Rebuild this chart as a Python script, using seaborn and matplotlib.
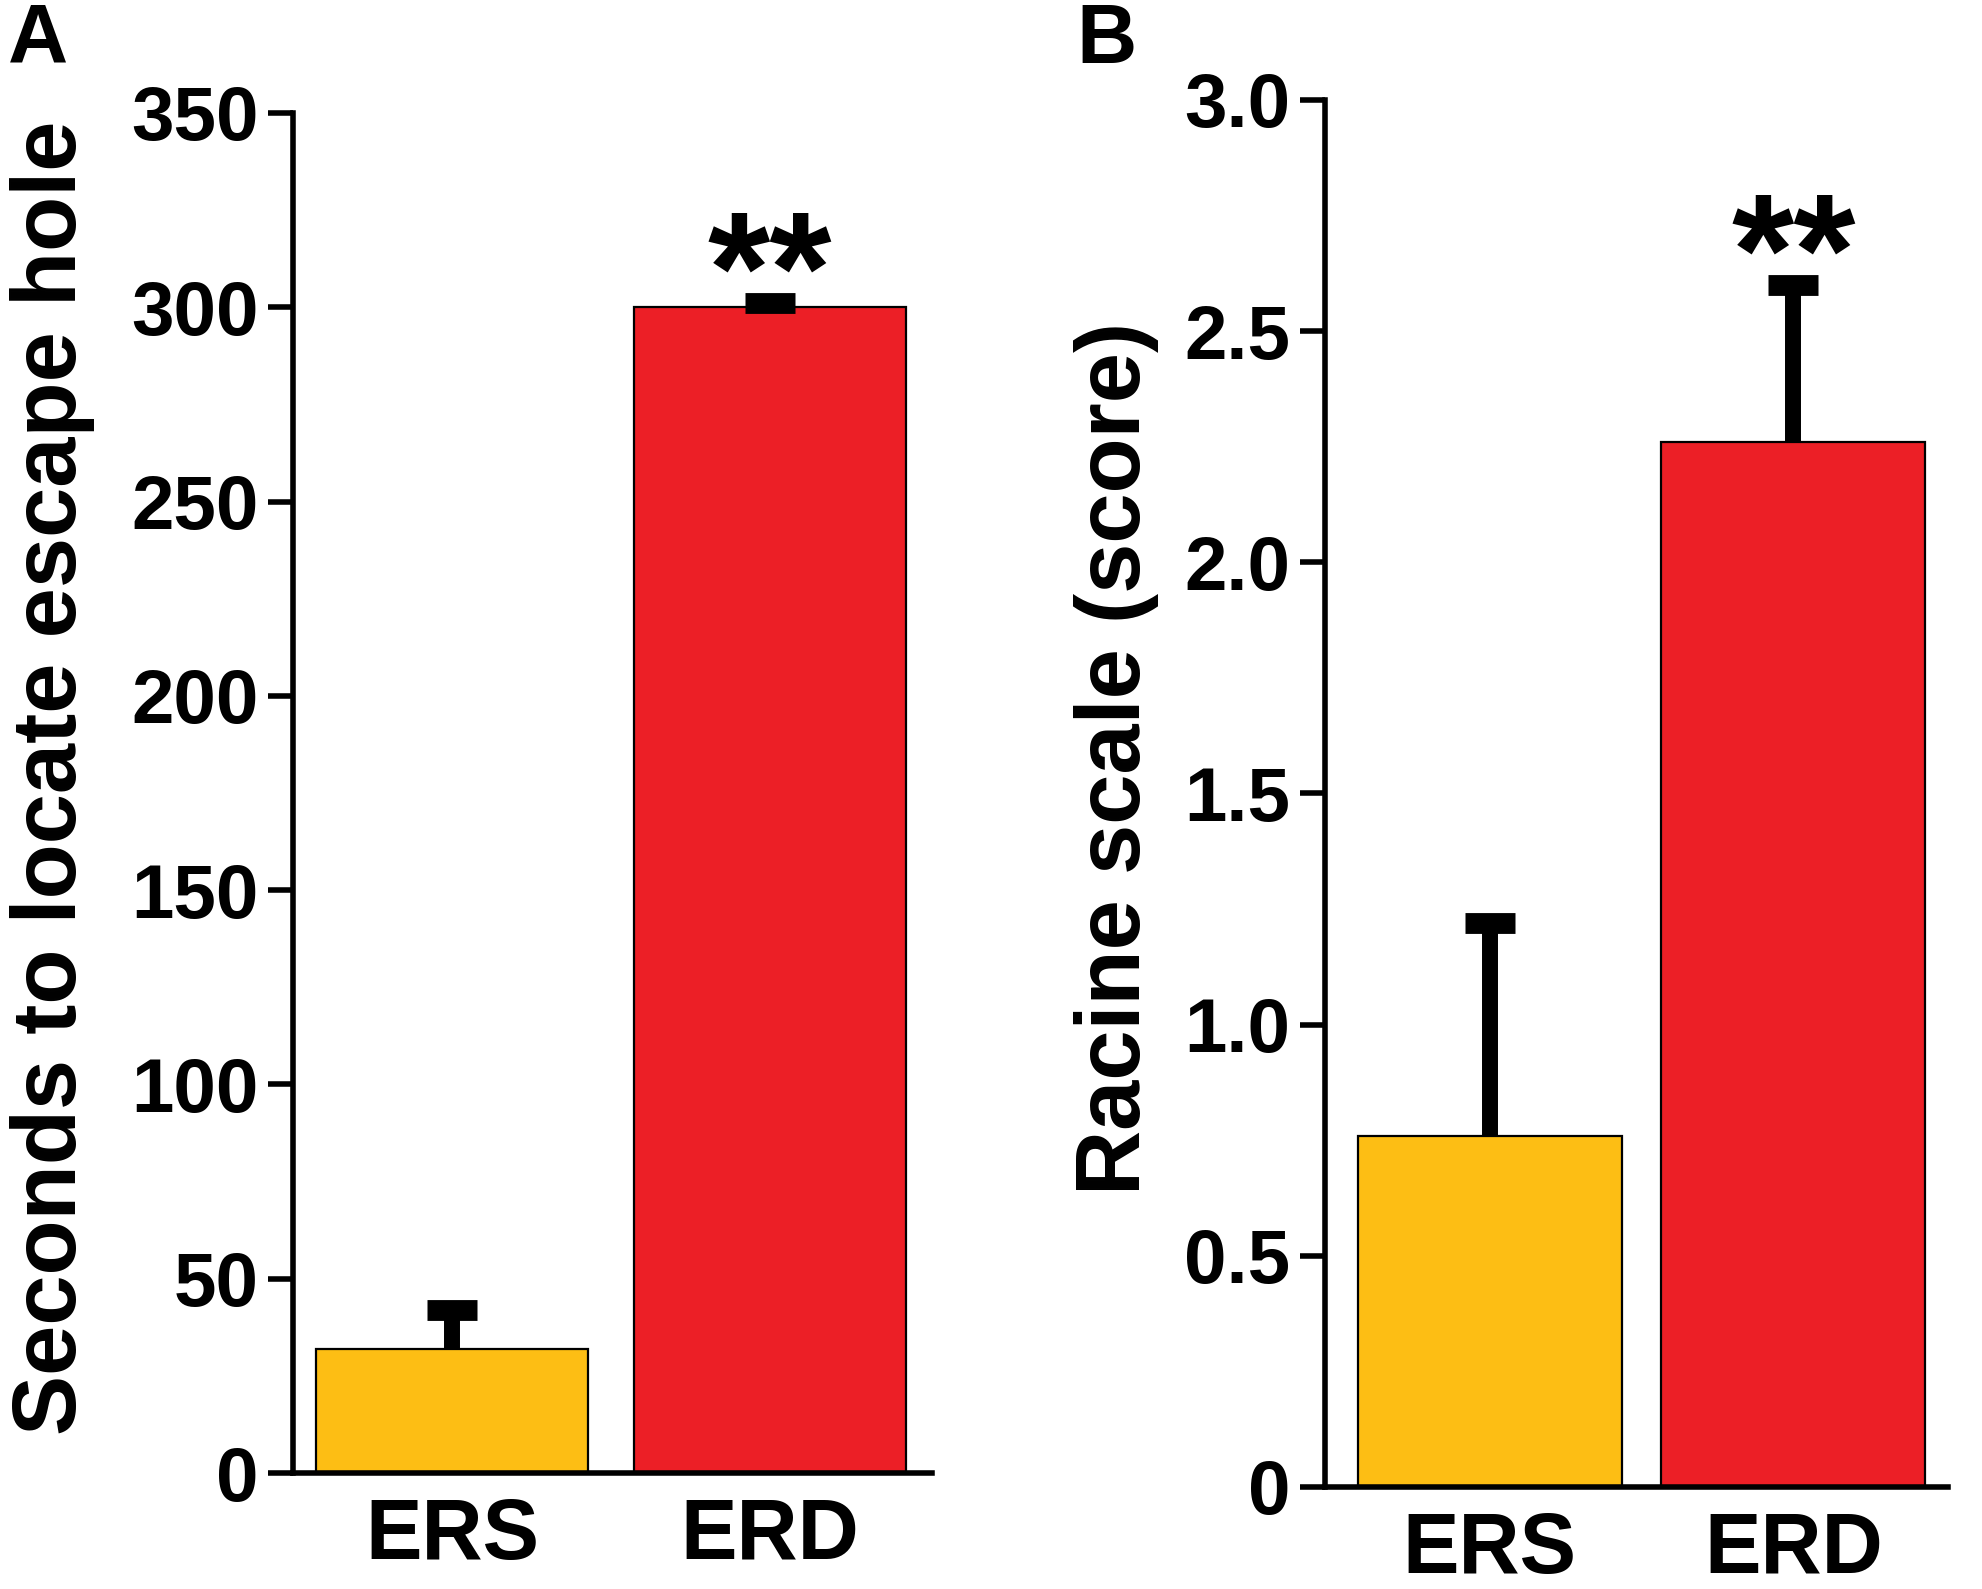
import matplotlib
matplotlib.use("Agg")
import matplotlib.pyplot as plt
import pandas as pd
import seaborn as sns

# values (mean and upper SEM)
groups = ["ERS", "ERD"]
colors = ["#FDBE14", "#EC1F26"]
escape_mean = [32, 300]
escape_err = [10, 1]
racine_mean = [0.76, 2.26]
racine_err = [0.46, 0.34]
escape_ticks = [0, 50, 100, 150, 200, 250, 300, 350]
racine_ticks = [0, 0.5, 1.0, 1.5, 2.0, 2.5, 3.0]
racine_ticklabels = ["0", "0.5", "1.0", "1.5", "2.0", "2.5", "3.0"]

sns.set_style("ticks")
plt.rcParams["font.family"] = ["Liberation Sans", "DejaVu Sans"]
plt.rcParams["font.weight"] = "bold"
for key in ["text.color", "axes.labelcolor", "axes.edgecolor", "xtick.color", "ytick.color"]:
    plt.rcParams[key] = "black"

fig = plt.figure(figsize=(19.83, 15.89), dpi=100)
ax_a = fig.add_axes([0.1478, 0.0730, 0.3222, 0.8559])
ax_b = fig.add_axes([0.6682, 0.0642, 0.3142, 0.8729])


def draw_panel(ax, means, errs, ylim, ticks, ticklabels, ylabel, xlim, width, label_xy):
    df = pd.DataFrame({"group": groups, "value": means})
    sns.barplot(data=df, x="group", y="value", hue="group", palette=colors,
                width=width, edgecolor="black", linewidth=1.6, legend=False,
                errorbar=None, saturation=1, ax=ax)
    eb = ax.errorbar(range(len(groups)), means, yerr=[[0] * len(errs), errs],
                     fmt="none", ecolor="black", elinewidth=11.5, capsize=18,
                     capthick=15, zorder=3)
    eb[1][0].set_visible(False)  # hide lower caps, only upper bar shown
    # significance marker over ERD
    ax.annotate("**", xy=(1, means[1] + errs[1]), xytext=(0, -14), textcoords="offset points",
                ha="center", va="baseline", fontsize=115, fontweight="bold")
    ax.set_ylim(*ylim)
    ax.set_xlim(*xlim)
    ax.set_yticks(ticks)
    ax.set_yticklabels(ticklabels)
    ax.set_xlabel("")
    ax.set_ylabel(ylabel, fontsize=65, fontweight="bold", va="center")
    ax.yaxis.set_label_coords(*label_xy)
    sns.despine(ax=ax)
    for s in ["left", "bottom"]:
        ax.spines[s].set_linewidth(4)
    ax.tick_params(axis="y", length=18, width=4, pad=7, labelsize=55)
    ax.tick_params(axis="x", length=0, pad=17, labelsize=61)


draw_panel(ax_a, escape_mean, escape_err, (0, 350), escape_ticks,
           [str(t) for t in escape_ticks], "Seconds to locate escape hole",
           (-0.50, 1.51), 0.855, (-0.376, 0.511))
draw_panel(ax_b, racine_mean, racine_err, (0, 3.0), racine_ticks,
           racine_ticklabels, "Racine scale (score)",
           (-0.543, 1.51), 0.87, (-0.334, 0.525))

fig.text(8 / 1983, 1 - 2 / 1589, "A", fontsize=60, fontweight="bold", ha="left", va="top")
fig.text(1076 / 1983, 1 - 2 / 1589, "B", fontsize=60, fontweight="bold", ha="left", va="top")

fig.savefig("out.png", dpi=100, facecolor="white")
